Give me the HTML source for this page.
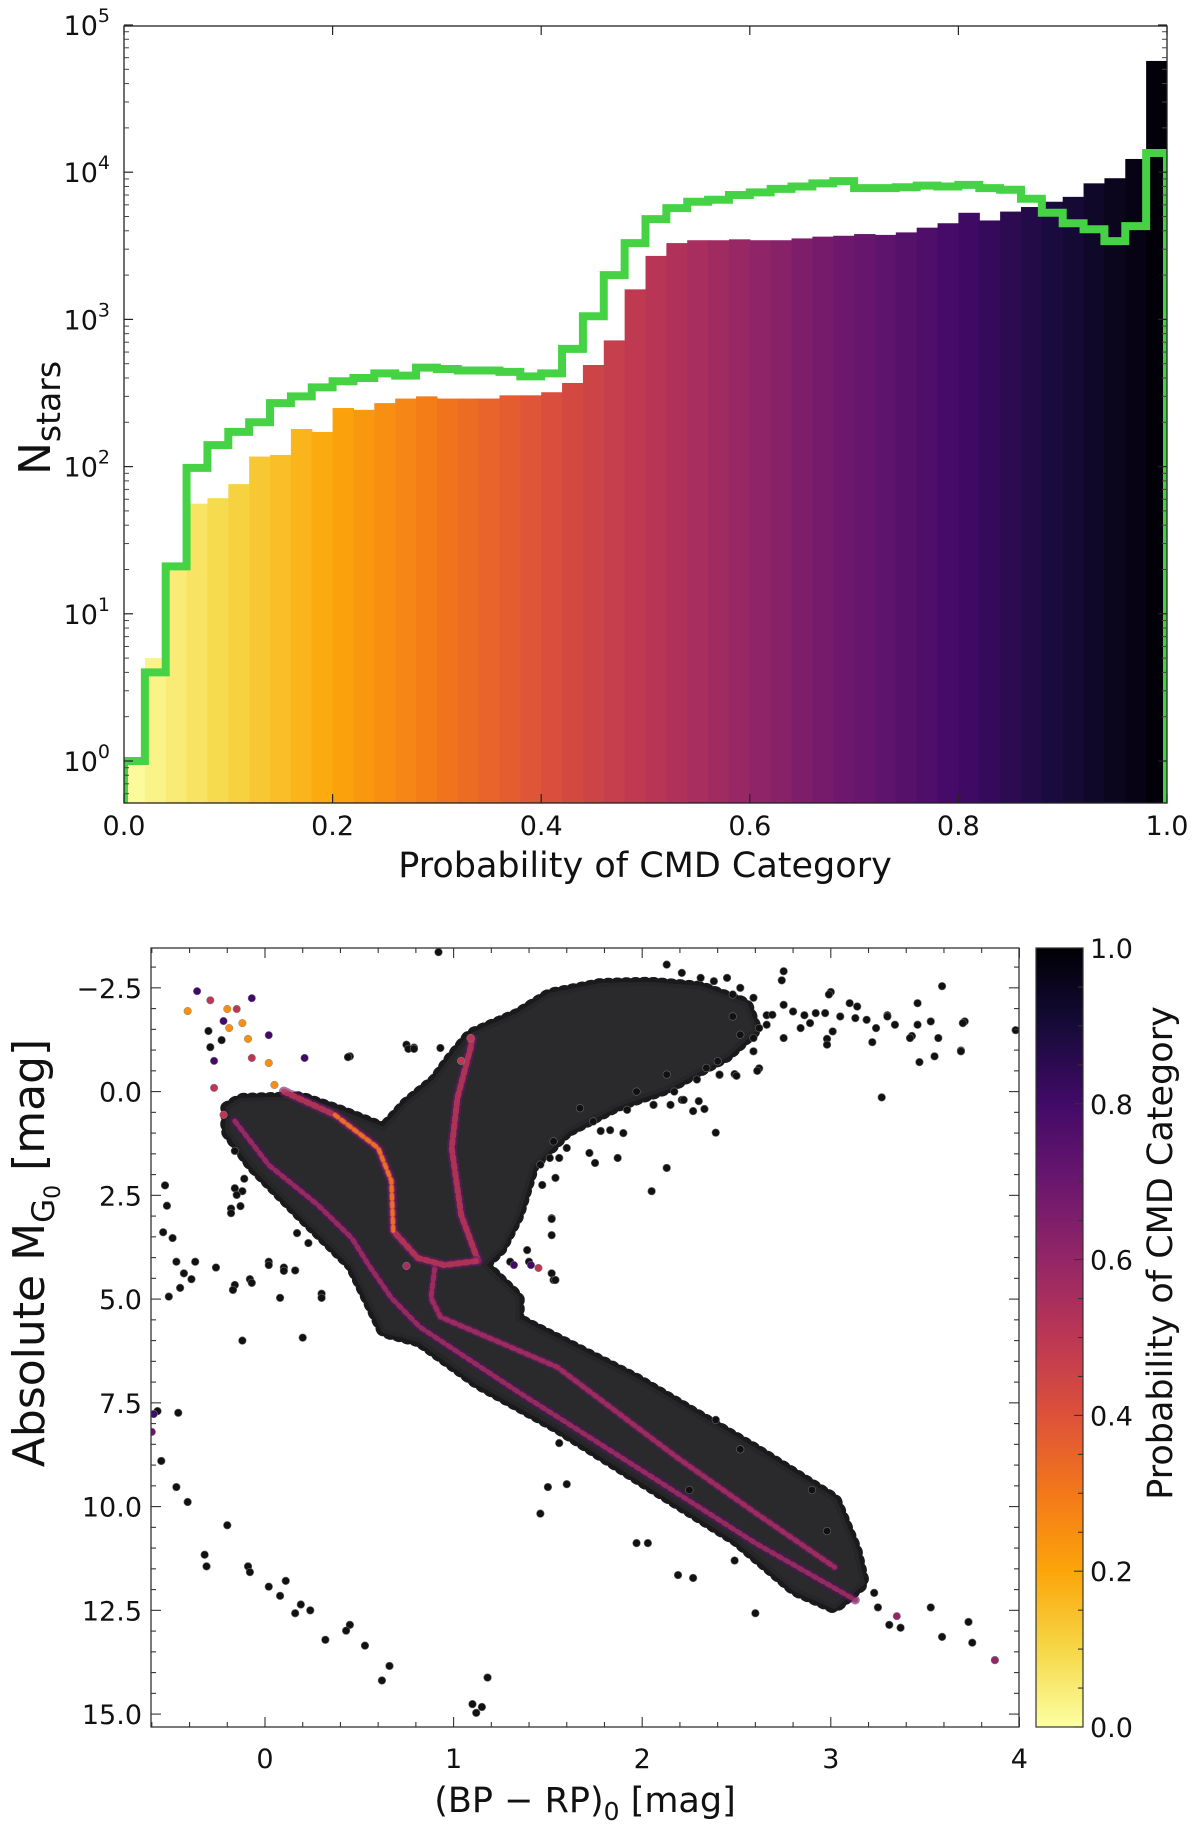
<!DOCTYPE html>
<html><head><meta charset="utf-8">
<style>
html,body{margin:0;padding:0;background:#fff;}
svg{display:block;font-family:"DejaVu Sans","Liberation Sans",sans-serif;}
</style></head>
<body>
<svg id="fig" width="1200" height="1824" viewBox="0 0 1200 1824">
  <defs>
    <linearGradient id="cbgrad" x1="0" y1="1" x2="0" y2="0">
      <stop offset="0" stop-color="#fcffa4"/><stop offset="0.1" stop-color="#f6d746"/>
      <stop offset="0.2" stop-color="#fca50a"/><stop offset="0.3" stop-color="#f37819"/>
      <stop offset="0.4" stop-color="#dd513a"/><stop offset="0.5" stop-color="#bc3754"/>
      <stop offset="0.6" stop-color="#932667"/><stop offset="0.7" stop-color="#6a176e"/>
      <stop offset="0.8" stop-color="#420a68"/><stop offset="0.9" stop-color="#160b39"/>
      <stop offset="1" stop-color="#000004"/>
    </linearGradient>
    <clipPath id="clipTop"><rect x="124" y="26" width="1043" height="777"/></clipPath>
    <clipPath id="clipBot"><rect x="151" y="948" width="868" height="779"/></clipPath>
  </defs>
  <g id="topPanel"></g>
  <g id="botPanel"></g>
</svg>
<script>
// ---------- histogram data ----------
const binEdgesStep = 0.02;
const filledCounts = [1,5,20,56,61,76,117,120,180,172,250,243,270,290,300,290,290,290,305,305,
  320,370,490,720,1600,2700,3300,3450,3450,3500,3450,3450,3550,3650,3700,3800,3750,3900,4200,4500,
  5300,4700,5400,5800,6300,6800,8400,9100,12300,57000];
const greenCounts = [1,4,21,98,140,172,200,270,300,345,380,400,430,415,470,460,450,450,440,410,
  430,630,1050,2000,3300,4800,5700,6300,6500,7000,7300,7700,8000,8400,8700,7800,7800,7900,8100,8000,
  8200,7800,7600,6600,5300,4500,4100,3400,4300,13500];
const topXTicks = [0,0.2,0.4,0.6,0.8,1.0];
const topYExps = [0,1,2,3,4,5];

// ---------- scatter data ----------
const denseBlob = [[-0.2,0.4],[-0.13,0.2],[0.19,0.16],[0.39,0.47],[0.63,0.9],[0.75,0.3],[0.9,-0.26],
 [0.99,-0.81],[1.09,-1.36],[1.34,-1.85],[1.51,-2.33],[1.78,-2.57],[2.04,-2.6],[2.31,-2.5],[2.55,-2.1],
 [2.6,-1.5],[2.45,-0.88],[2.13,-0.09],[1.87,0.32],[1.6,0.95],[1.42,1.77],[1.34,2.97],[1.25,3.77],[1.16,4.18],
 [1.34,4.97],[1.34,5.5],[1.97,6.95],[2.6,8.64],[3.02,9.84],[3.13,11.05],[3.17,11.84],[3.02,12.42],
 [2.81,12.0],[2.5,10.8],[1.97,9.29],[1.55,8.08],[1.13,7.02],[0.82,6.0],[0.63,5.77],[0.46,4.18],
 [0.19,2.97],[-0.07,1.77],[-0.2,0.95]];
const ridgeBlueLoop = [[0.1,0.0],[0.37,0.56],[0.6,1.36],[0.67,2.15],[0.68,3.36],[0.81,4.01],[0.95,4.18],[1.13,4.08]];
const ridgeBlueLoopLow = [[0.37,0.56],[0.6,1.36],[0.67,2.15],[0.68,3.36]];
const ridgeRGB = [[1.13,4.08],[1.04,2.97],[0.99,1.36],[1.02,0.16],[1.09,-1.05],[1.1,-1.36]];
const ridgeMS = [[0.9,4.25],[0.88,4.97],[0.93,5.43],[1.55,6.64],[2.18,8.8],[2.6,10.15],[3.02,11.46]];
const ridgeLowerEdge = [[-0.16,0.71],[0.02,1.77],[0.28,2.73],[0.46,3.53],[0.55,4.18],[0.67,4.97],[0.82,5.67],[1.35,7.26],[1.97,9.05],[2.6,10.88],[3.13,12.25]];
const outlierColor = [-0.53,-0.52,-0.54,-0.49,-0.47,-0.43,-0.37,-0.51,-0.45,-0.39,-0.26,-0.16,-0.08,-0.16,-0.18,-0.12,0.02,0.10,0.16,0.30,
 -0.12,0.20,-0.57,-0.46,-0.55,-0.47,-0.41,-0.32,-0.31,-0.20,-0.09,-0.08,0.02,0.11,0.08,0.16,0.19,0.24,0.32,0.45,
 0.43,0.53,0.66,0.62,1.18,1.10,1.12,1.15,0.92,3.98,3.59,3.71,3.69,3.55,3.47,3.43,3.30,3.27,3.00,2.98,
 2.86,3.14,2.66,2.74,2.49,2.62,2.33,2.39,2.13,2.05,0.75,0.79,0.45,1.52,1.40,1.30,1.56,1.50,1.60,1.46,
 1.97,2.03,2.19,2.27,2.49,2.60,3.31,3.37,3.53,3.59,3.73,3.75,3.87,3.25,3.23,2.90,2.98,2.52,2.39,2.25,
 -0.3,-0.29,-0.23,0.44,0.76,0.79,0.93,-0.16,-0.11,-0.15,-0.18,-0.13,0.02,0.1,0.17,0.23,0.3,0.08,-0.07,-0.17,
 1.53,1.52,1.52,1.39,1.78,1.83,1.9,1.72,1.75,1.87,1.51,1.56,1.54,1.47,1.52,1.54,2.06,2.15,2.21,2.27,2.3,2.5,2.61,2.41];
const outlierMag = [2.26,2.75,3.39,3.53,4.10,4.38,4.10,4.94,4.73,4.52,4.24,4.66,4.52,2.33,2.82,2.40,4.10,4.24,4.31,4.87,
 6.00,5.93,7.70,7.74,8.90,9.53,9.89,11.16,11.44,10.45,11.44,11.58,11.93,11.79,12.15,12.57,12.36,12.50,13.21,12.85,
 12.99,13.35,13.84,14.19,14.12,14.76,14.97,14.83,-3.36,-1.48,-2.54,-1.69,-0.99,-0.85,-0.71,-1.34,-1.84,0.14,-2.40,-1.27,
 -1.84,-2.05,-1.84,-2.68,-0.42,-0.56,0.42,0.99,1.84,2.40,-1.13,-1.06,-0.85,4.38,4.10,4.10,8.47,9.53,9.46,10.17,
 10.88,10.88,11.65,11.72,11.30,12.57,12.85,12.92,12.43,13.14,12.78,13.28,13.70,12.43,12.08,9.60,10.59,8.62,7.91,9.60,
 -1.46,-1.07,-1.24,-0.83,-1.03,-1.03,-1.05,1.43,2.1,2.49,2.93,2.76,4.18,4.32,3.41,3.65,4.97,4.97,4.61,4.78,
 4.54,3.46,3.05,3.82,0.95,0.93,1.0,1.48,1.72,1.6,1.6,1.6,2.08,2.25,3.07,4.54,0.32,0.32,0.2,0.47,0.23,-0.38,-0.5,-0.4];
const rgbTailColor = [2.48,2.52,2.59,2.62,2.66,2.69,2.75,2.80,2.84,2.89,2.92,2.97,3.01,3.05,3.10,3.13,3.19,3.24,3.30,3.34,
 3.46,3.46,3.53,3.57,3.69,3.70,3.42,3.22,2.98,2.75,2.59,2.41,2.48,2.52,2.59,2.38,2.31,2.45,2.21,2.13,2.75,2.99,
 1.92,1.97,2.06,2.17,2.22,2.29,2.34,2.40,2.13,1.74,1.67,1.60,1.53,1.46];
const rgbTailMag = [-1.81,-1.37,-1.29,-1.53,-1.61,-1.85,-2.09,-1.93,-1.53,-1.65,-1.89,-1.89,-1.45,-1.81,-2.13,-1.77,-1.73,-1.53,-1.81,-1.61,
 -2.13,-1.61,-1.69,-1.29,-0.97,-1.65,-1.29,-1.19,-1.13,-1.29,-0.97,-0.41,-2.34,-2.50,-2.26,-2.66,-2.74,-2.74,-2.86,-3.06,-2.90,-2.34,
 0.44,0.0,0.32,0.0,0.2,-0.29,-0.57,-0.73,-0.41,0.72,0.4,1.36,1.2,1.76];
const colOutColor = [-0.41,-0.36,-0.29,-0.2,-0.15,-0.12,-0.19,-0.09,-0.07,-0.22,0.02,0.05,-0.07,-0.27,-0.27,-0.22,0.02,0.21,1.09,1.04,1.41,1.45,1.32,-0.59,3.87,3.35,-0.6,0.75];
const colOutMag = [-1.94,-2.42,-2.2,-1.99,-1.99,-1.65,-1.53,-1.27,-2.25,-1.7,-0.69,-0.16,-0.81,-0.74,-0.09,0.56,-1.36,-0.81,-1.29,-0.74,4.18,4.25,4.18,7.77,13.7,12.64,8.2,4.2];
const colOutProb = [0.25,0.8,0.5,0.25,0.5,0.25,0.25,0.25,0.8,0.8,0.25,0.25,0.5,0.8,0.5,0.5,0.8,0.8,0.5,0.5,0.8,0.5,0.8,0.8,0.6,0.6,0.7,0.55];
const botXTicks = [0,1,2,3,4];
const botYTicks = [-2.5,0,2.5,5,7.5,10,12.5,15];
const cbTicks = [0,0.2,0.4,0.6,0.8,1.0];

const NS='http://www.w3.org/2000/svg';
function mk(tag, attrs, parent){const e=document.createElementNS(NS,tag);for(const k in attrs)e.setAttribute(k,attrs[k]);if(parent)parent.appendChild(e);return e;}
const stops=[[0,0,0,4],[0.1,22,11,57],[0.2,66,10,104],[0.3,106,23,110],[0.4,147,38,103],[0.5,188,55,84],[0.6,221,81,58],[0.7,243,120,25],[0.8,252,165,10],[0.9,246,215,70],[1,252,255,164]];
function inferno(t){t=Math.max(0,Math.min(1,t));for(let i=1;i<stops.length;i++){if(t<=stops[i][0]){const a=stops[i-1],b=stops[i],f=(t-a[0])/(b[0]-a[0]);return `rgb(${Math.round(a[1]+f*(b[1]-a[1]))},${Math.round(a[2]+f*(b[2]-a[2]))},${Math.round(a[3]+f*(b[3]-a[3]))})`;}}return 'rgb(252,255,164)';}

// ================= TOP PANEL =================
const topG=document.getElementById('topPanel');
const TL=124,TR=1167,TT=26,TB=803;
const tx=p=>TL+p*(TR-TL);
const ty=v=>761-Math.log10(v)*147.2;
const barG=mk('g',{'clip-path':'url(#clipTop)'},topG);


filledCounts.forEach((v,i)=>{
  const x0=tx(i*binEdgesStep), x1=tx((i+1)*binEdgesStep);
  const r=mk('rect',{x:x0,y:ty(v),width:x1-x0+0.6,height:TB-ty(v),fill:inferno(1-(i+0.5)*binEdgesStep)},barG);
  
  
});
let d=`M${tx(0)},${TB}`;
greenCounts.forEach((v,i)=>{d+=` V${ty(v)} H${tx((i+1)*binEdgesStep)}`;});
d+=` V${TB}`;
const gl=mk('path',{d:d,fill:'none',stroke:'#45d345','stroke-width':8,'stroke-linejoin':'miter','clip-path':'url(#clipTop)'},topG);


const tf=mk('rect',{x:TL,y:TT,width:TR-TL,height:TB-TT,fill:'none',stroke:'#222','stroke-width':1.3},topG);


topYExps.forEach(e=>{
  const y=ty(Math.pow(10,e));
  mk('line',{x1:TL,x2:TL+9,y1:y,y2:y,stroke:'#222','stroke-width':1.2},topG);
  mk('line',{x1:TR,x2:TR-9,y1:y,y2:y,stroke:'#222','stroke-width':1.2},topG);
  const t=mk('text',{x:110,y:y+10,'text-anchor':'end','font-size':27,fill:'#111'},topG);
  
  
  t.appendChild(document.createTextNode('10'));
  const s=mk('tspan',{dy:-13,'font-size':19},t);
  s.textContent=String(e);
  if(e<5){for(let m=2;m<10;m++){const ym=ty(m*Math.pow(10,e));mk('line',{x1:TL,x2:TL+5,y1:ym,y2:ym,stroke:'#444','stroke-width':1},topG);mk('line',{x1:TR,x2:TR-5,y1:ym,y2:ym,stroke:'#444','stroke-width':1},topG);}}
});
[0.6,0.7,0.8,0.9].forEach(m=>{const ym=ty(m);mk('line',{x1:TL,x2:TL+5,y1:ym,y2:ym,stroke:'#444','stroke-width':1},topG);});
topXTicks.forEach(p=>{
  const x=tx(p);
  mk('line',{x1:x,x2:x,y1:TB,y2:TB-9,stroke:'#222','stroke-width':1.2},topG);
  mk('line',{x1:x,x2:x,y1:TT,y2:TT+9,stroke:'#222','stroke-width':1.2},topG);
  const t=mk('text',{x:x,y:835,'text-anchor':'middle','font-size':27,fill:'#111'},topG);
  
  
  t.textContent=p.toFixed(1);
});
const xl=mk('text',{x:645,y:877,'text-anchor':'middle','font-size':35,fill:'#111'},topG);


xl.textContent='Probability of CMD Category';
const yl=mk('text',{x:0,y:0,'text-anchor':'middle','font-size':44,fill:'#111',transform:'translate(50,418) rotate(-90)'},topG);


yl.appendChild(document.createTextNode('N'));
const ys=mk('tspan',{dy:10,'font-size':33},yl); ys.textContent='stars';

// ================= BOTTOM PANEL =================
const botG=document.getElementById('botPanel');
const BL=151,BR=1019,BT=948,BB=1727;
const bx=c=>265+c*188.6;
const by=m=>948+(m+3.46)*41.5;
const sc=mk('g',{'clip-path':'url(#clipBot)'},botG);


const blobPts=denseBlob.map(p=>bx(p[0])+','+by(p[1])).join(' ');
const halo=mk('polygon',{points:blobPts,fill:'none',stroke:'#1a1a1c','stroke-width':14,'stroke-dasharray':'1 8','stroke-linecap':'round','stroke-linejoin':'round'},sc);


const blob=mk('polygon',{points:blobPts,fill:'#2a2a2c',stroke:'#262628','stroke-width':4,'stroke-linejoin':'round'},sc);


function ridge(arr,col,w,name,op){
  const pl=mk('polyline',{points:arr.map(p=>bx(p[0])+','+by(p[1])).join(' '),fill:'none',stroke:col,'stroke-width':w,'stroke-linejoin':'round','stroke-linecap':'round','stroke-dasharray':'4 4',opacity:op},sc);
  
  
}
ridge(ridgeLowerEdge,inferno(0.25),9,'lower-edge-ridge-halo',0.6);
ridge(ridgeLowerEdge,inferno(0.45),5,'lower-edge-ridge',0.8);
ridge(ridgeMS,inferno(0.3),8,'main-sequence-ridge-halo',0.6);
ridge(ridgeMS,inferno(0.45),5,'main-sequence-ridge',0.85);
ridge(ridgeRGB,inferno(0.3),10,'giant-branch-ridge-halo',0.6);
ridge(ridgeRGB,inferno(0.5),6,'giant-branch-ridge',0.85);
ridge(ridgeBlueLoop,inferno(0.3),10,'upper-ms-ridge-halo',0.6);
ridge(ridgeBlueLoop,inferno(0.5),6,'upper-ms-ridge',0.85);
ridge(ridgeBlueLoopLow,inferno(0.72),4,'upper-ms-ridge-low-prob',0.8);
outlierColor.forEach((c,i)=>{
  const p=mk('circle',{cx:bx(c),cy:by(outlierMag[i]),r:3.8,fill:'#111',stroke:'#666','stroke-width':0.6},sc);
  
  
});
rgbTailColor.forEach((c,i)=>{
  const p=mk('circle',{cx:bx(c),cy:by(rgbTailMag[i]),r:3.8,fill:'#111',stroke:'#666','stroke-width':0.6},sc);
  
  
});
colOutColor.forEach((c,i)=>{
  const p=mk('circle',{cx:bx(c),cy:by(colOutMag[i]),r:3.8,fill:inferno(1-colOutProb[i]),stroke:'#888','stroke-width':0.5},sc);
  
  
});
const bf=mk('rect',{x:BL,y:BT,width:BR-BL,height:BB-BT,fill:'none',stroke:'#333','stroke-width':1.3},botG);


for(let c=-0.6;c<=4.001;c+=0.2){const x=bx(c);const maj=Math.abs(c-Math.round(c))<0.01;const L=maj?10:5;
  mk('line',{x1:x,x2:x,y1:BB,y2:BB-L,stroke:'#333','stroke-width':1.1},botG);
  mk('line',{x1:x,x2:x,y1:BT,y2:BT+L,stroke:'#333','stroke-width':1.1},botG);}
for(let m=-3;m<=15.3;m+=0.5){const y=by(m);const maj=Math.abs(m/2.5-Math.round(m/2.5))<0.01;const L=maj?10:5;
  mk('line',{x1:BL,x2:BL+L,y1:y,y2:y,stroke:'#333','stroke-width':1.1},botG);
  mk('line',{x1:BR,x2:BR-L,y1:y,y2:y,stroke:'#333','stroke-width':1.1},botG);}
botXTicks.forEach(c=>{
  const t=mk('text',{x:bx(c),y:1768,'text-anchor':'middle','font-size':27,fill:'#111'},botG);
  
  
  t.textContent=String(c);
});
botYTicks.forEach(m=>{
  const t=mk('text',{x:142,y:by(m)+10,'text-anchor':'end','font-size':27,fill:'#111'},botG);
  
  
  t.textContent=(m<0?'\u2212':'')+Math.abs(m).toFixed(1);
});
const bxl=mk('text',{x:585,y:1812,'text-anchor':'middle','font-size':35,fill:'#111'},botG);


bxl.appendChild(document.createTextNode('(BP \u2212 RP)'));
const b1=mk('tspan',{dy:8,'font-size':25},bxl); b1.textContent='0';
const b2=mk('tspan',{dy:-8},bxl); b2.textContent=' [mag]';
const byl=mk('text',{x:0,y:0,'text-anchor':'middle','font-size':44,fill:'#111',transform:'translate(44,1253) rotate(-90)'},botG);


byl.appendChild(document.createTextNode('Absolute M'));
const c1=mk('tspan',{dy:10,'font-size':31},byl); c1.textContent='G';
const c2=mk('tspan',{dy:6,'font-size':22},byl); c2.textContent='0';
const c3=mk('tspan',{dy:-16},byl); c3.textContent=' [mag]';
// colorbar
const CL=1036,CR=1083;
const cb=mk('rect',{x:CL,y:BT,width:CR-CL,height:BB-BT,fill:'url(#cbgrad)',stroke:'#333','stroke-width':1.2},botG);


const cyf=v=>BB-v*(BB-BT);
for(let v=0;v<=1.001;v+=0.05){const maj=Math.abs(v*5-Math.round(v*5))<0.01;mk('line',{x1:CR,x2:CR-(maj?9:5),y1:cyf(v),y2:cyf(v),stroke:'#333','stroke-width':1.1},botG);}
cbTicks.forEach(v=>{
  const t=mk('text',{x:1090,y:cyf(v)+10,'font-size':27,fill:'#111'},botG);
  
  
  t.textContent=v.toFixed(1);
});
const cbl=mk('text',{x:0,y:0,'text-anchor':'middle','font-size':35,fill:'#111',transform:'translate(1172,1253) rotate(-90)'},botG);


cbl.textContent='Probability of CMD Category';
</script>
</body></html>
